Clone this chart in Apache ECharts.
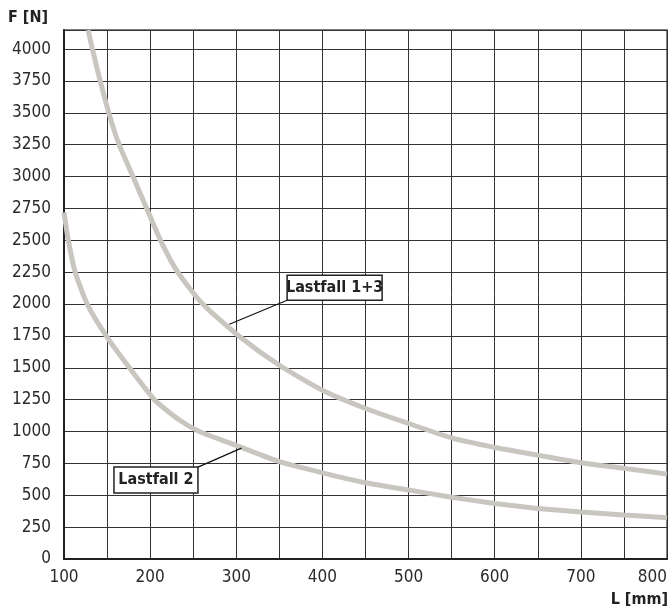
<!DOCTYPE html>
<html>
<head>
<meta charset="utf-8">
<script src="https://cdn.jsdelivr.net/npm/echarts@6/dist/echarts.min.js"></script>
<style>
html,body{margin:0;padding:0;background:#fff;}
#c{width:670px;height:613px;}
</style>
</head>
<body>
<div id="c"></div>
<script>
// Data
const xTicks = [100, 200, 300, 400, 500, 600, 700, 800];
const yTicks = [0, 250, 500, 750, 1000, 1250, 1500, 1750, 2000, 2250, 2500, 2750, 3000, 3250, 3500, 3750, 4000];
const seriesNames = ['Lastfall 1+3', 'Lastfall 2'];
const lastfall13L = [128, 133, 142, 152, 164, 180, 196, 212, 232, 261, 303, 350, 400, 450, 500, 550, 600, 650, 700, 750, 800];
const lastfall13F = [4150, 4000, 3750, 3500, 3250, 3000, 2750, 2500, 2250, 2000, 1750, 1520, 1324, 1181, 1063, 950, 875, 815, 755, 711, 666];
const lastfall2L = [100, 105, 113, 127, 149, 176, 205, 234, 257, 292, 350, 400, 450, 500, 550, 600, 650, 700, 750, 800];
const lastfall2F = [2720, 2500, 2250, 2000, 1750, 1500, 1250, 1090, 1000, 911, 763, 676, 598, 541, 485, 436, 397, 368, 345, 324];
// annotation anchors (data space): box top-left and leader end on curve
const annoBoxL = [359, 158];
const annoBoxF = [2226, 721];
const annoTipL = [292, 306];
const annoTipF = [1842, 870];

const FONT = "'Liberation Sans Narrow', 'DejaVu Sans Condensed', 'Liberation Sans', sans-serif";
const chart = echarts.init(document.getElementById('c'), null, {renderer: 'canvas'});

function zip(a, b) { return a.map((v, i) => [v, b[i]]); }

const option = {
  animation: false,
  backgroundColor: '#fff',
  grid: {left: 64, right: 2, top: 30, bottom: 54, show: true, borderColor: '#555', borderWidth: 1.5, containLabel: false},
  xAxis: {
    type: 'value', min: 100, max: 800, interval: 50,
    axisLine: {show: true, onZero: false, lineStyle: {color: '#222', width: 2}},
    axisTick: {show: false},
    splitLine: {show: true, lineStyle: {color: '#333', width: 1}},
    axisLabel: {
      margin: 10, fontSize: 17, color: '#2a2a2a', fontFamily: FONT,
      alignMaxLabel: 'right',
      formatter: v => xTicks.indexOf(v) >= 0 ? String(v) : ''
    }
  },
  yAxis: {
    type: 'value', min: 0, max: 4150, interval: 250,
    axisLine: {show: true, onZero: false, lineStyle: {color: '#222', width: 2}},
    axisTick: {show: false},
    splitLine: {show: true, lineStyle: {color: '#333', width: 1}},
    axisLabel: {
      margin: 13, fontSize: 17, color: '#2a2a2a', fontFamily: FONT,
      showMaxLabel: false,
      formatter: v => yTicks.indexOf(v) >= 0 ? String(v) : ''
    }
  },
  series: [
    {name: seriesNames[0], type: 'line', data: zip(lastfall13L, lastfall13F), showSymbol: false, smooth: 0.2, clip: true,
     lineStyle: {color: '#c9c6c0', width: 5}},
    {name: seriesNames[1], type: 'line', data: zip(lastfall2L, lastfall2F), showSymbol: false, smooth: 0.2, clip: true,
     lineStyle: {color: '#c9c6c0', width: 5}}
  ]
};
chart.setOption(option);

const boxW = [95, 84], boxH = [25, 26];
const graphics = [
  {type: 'text', left: 8, top: 10, style: {text: 'F [N]', font: "bold 16px " + FONT, fill: '#222'}},
  {type: 'text', right: 2, top: 592, style: {text: 'L [mm]', font: "bold 16px " + FONT, fill: '#222'}}
];
seriesNames.forEach((name, i) => {
  const p = chart.convertToPixel({gridIndex: 0}, [annoBoxL[i], annoBoxF[i]]);
  const t = chart.convertToPixel({gridIndex: 0}, [annoTipL[i], annoTipF[i]]);
  const s = i === 0 ? [p[0], p[1] + boxH[i]] : [p[0] + boxW[i], p[1]];
  graphics.push({type: 'line', shape: {x1: s[0], y1: s[1], x2: t[0], y2: t[1]}, style: {stroke: '#111', lineWidth: 1.2}, z: 10});
  graphics.push({type: 'rect', shape: {x: p[0], y: p[1], width: boxW[i], height: boxH[i]}, style: {fill: '#fff', stroke: '#222', lineWidth: 1.5}, z: 11});
  graphics.push({type: 'text', x: p[0] + boxW[i] / 2, y: p[1] + boxH[i] / 2, style: {text: name, font: "bold 16px " + FONT, fill: '#222', align: 'center', verticalAlign: 'middle'}, z: 12});
});
chart.setOption({graphic: graphics});
</script>
</body>
</html>
